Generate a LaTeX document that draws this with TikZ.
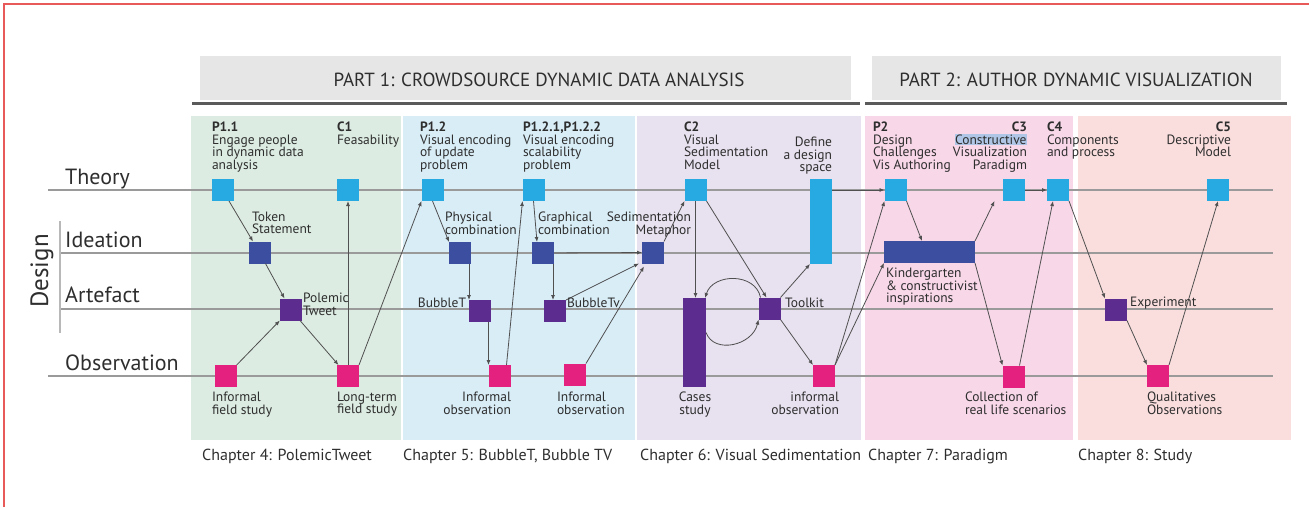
\documentclass[tikz,border=0pt]{standalone}
\usepackage{fontspec}
\setmainfont{PT Sans}
\usetikzlibrary{arrows.meta}
\definecolor{cgreen}{HTML}{DCECE2}
\definecolor{cblue}{HTML}{D9EDF7}
\definecolor{clav}{HTML}{E8E1EF}
\definecolor{cpink}{HTML}{F8D7E8}
\definecolor{csalmon}{HTML}{FADEDE}
\definecolor{chdr}{HTML}{E6E6E6}
\definecolor{chdrline}{HTML}{5A5A5A}
\definecolor{cth}{HTML}{27AAE1}
\definecolor{cid}{HTML}{3C4EA0}
\definecolor{car}{HTML}{5C2D8E}
\definecolor{cob}{HTML}{E5217F}
\definecolor{ctxt}{HTML}{2E2E2E}
\definecolor{cline}{HTML}{9A9A9A}
\definecolor{carr}{HTML}{505050}
\definecolor{cred}{HTML}{E85A5A}
\definecolor{hlblue}{HTML}{AFC6E6}
\newcommand{\hlbox}[1]{{\setlength{\fboxsep}{0.5pt}\colorbox{hlblue}{#1}}}
\begin{document}
\begin{tikzpicture}[x=1pt,y=-1pt,
  sqbox/.style={draw=none,minimum width=22pt,minimum height=22pt,inner sep=0pt,outer sep=0pt},
  thbox/.style={sqbox,fill=cth}, idbox/.style={sqbox,fill=cid}, arbox/.style={sqbox,fill=car}, obbox/.style={sqbox,fill=cob},
  lbl/.style={inner sep=0pt,outer sep=0pt,text=ctxt,font=\fontsize{13.5}{12.5}\selectfont},
  rowlbl/.style={inner sep=0pt,text=ctxt,font=\fontsize{22}{24}\selectfont,anchor=base west},
  chap/.style={inner sep=0pt,text=ctxt,font=\fontsize{16}{18}\selectfont,anchor=base west},
  parttxt/.style={inner sep=0pt,text=ctxt,font=\fontsize{19}{21}\selectfont},
  arr/.style={draw=carr,line width=0.8pt,-{Latex[length=5pt,width=4pt]}},
  rowline/.style={draw=cline,line width=1.2pt}]
\useasboundingbox (0,0) rectangle (1309,507);
% frame
\draw[cred,line width=1.5pt] (4,507) -- (4,4) -- (1309,4);
% headers
\fill[chdr] (200,56) rectangle (851,100);
\draw[chdrline,line width=3pt] (192,103) -- (860,103);
\node[parttxt] (part1) at (539,79.5) {PART 1: CROWDSOURCE DYNAMIC DATA ANALYSIS};
\fill[chdr] (872,56) rectangle (1281,100);
\draw[chdrline,line width=3pt] (865,103) -- (1287,103);
\node[parttxt] (part2) at (1076,79.5) {PART 2: AUTHOR DYNAMIC VISUALIZATION};
% panels
\fill[cgreen] (191,116) rectangle (401,440);
\fill[cblue] (403,116) rectangle (635,440);
\fill[clav] (637,116) rectangle (861,440);
\fill[cpink] (865,116) rectangle (1073,440);
\fill[csalmon] (1078,116) rectangle (1291,440);
% row lines
\draw[rowline] (48,190) -- (1273,190);
\draw[rowline] (60,253) -- (1273,253);
\draw[rowline] (60,309) -- (1273,309);
\draw[rowline] (48,376) -- (1273,376);
\draw[draw=cline!70,line width=1.5pt] (60,221) -- (60,333);
% row labels
\node[rowlbl] (rTheory) at (65,184) {Theory};
\node[rowlbl] (rIdea) at (65,247) {Ideation};
\node[rowlbl] (rArt) at (65,302) {Artefact};
\node[rowlbl] (rObs) at (65,370) {Observation};
\node[inner sep=0pt,text=ctxt,font=\fontsize{25}{27}\selectfont,rotate=90] (design) at (42,271) {Design};
% theory nodes
\node[thbox] (p11) at (222.5,190) {};
\node[thbox] (c1) at (348,190) {};
\node[thbox] (p12) at (432.5,190) {};
\node[thbox] (p121) at (533.5,190) {};
\node[thbox] (c2) at (695.5,190) {};
\node[thbox,minimum width=22pt,minimum height=85pt] (define) at (821,221.5) {};
\node[thbox] (p2) at (895.5,190) {};
\node[thbox] (c3) at (1013.5,190) {};
\node[thbox] (c4) at (1058,190) {};
\node[thbox] (c5) at (1218,190) {};
% ideation nodes
\node[idbox] (token) at (259.5,252.5) {};
\node[idbox] (phys) at (460,253) {};
\node[idbox] (graph) at (543,253) {};
\node[idbox] (sedim) at (653,252.5) {};
\node[idbox,minimum width=91pt] (kinder) at (929.5,252) {};
% artefact nodes
\node[arbox] (polemic) at (290.5,309.5) {};
\node[arbox] (bubt) at (479.5,311) {};
\node[arbox] (bubtv) at (555,311) {};
\node[arbox,minimum width=23pt,minimum height=89pt] (cases) at (694.5,342.5) {};
\node[arbox] (toolkit) at (769.5,308.5) {};
\node[arbox] (exp) at (1116,309.5) {};
% observation nodes
\node[obbox] (infstudy) at (226,376) {};
\node[obbox] (longterm) at (348,376) {};
\node[obbox] (infobs1) at (499.5,376) {};
\node[obbox] (infobs2) at (575,374.5) {};
\node[obbox] (infobs3) at (824,376) {};
\node[obbox] (coll) at (1013.5,376.5) {};
\node[obbox] (qual) at (1158,376) {};
% connectors chapter 4
\draw[arr] (p11) -- (token);
\draw[arr] (token) -- (polemic);
\draw[arr] (infstudy) -- (polemic);
\draw[arr] (polemic) -- (longterm);
\draw[arr] (longterm) -- (c1);
\draw[arr] (longterm.north east) -- (p12.south west);
% chapter 5
\draw[arr] (p12.south) -- (phys.north west);
\draw[arr] ([xshift=-2pt]phys.south east) -- ([xshift=-2pt]phys.south east |- bubt.north);
\draw[arr] ([xshift=-2pt]bubt.south east) -- ([xshift=-2pt]bubt.south east |- infobs1.north);
\draw[arr] ([xshift=-4pt]infobs1.north east) -- (p121.south west);
\draw[arr] (p121.south) -- ([xshift=-6pt]graph.north);
\draw[arr] ([xshift=-1pt]graph.south east) -- ([xshift=-1pt]graph.south east |- bubtv.north);
\draw[arr] (graph) -- (sedim);
\draw[arr] (bubtv.north east) -- ([xshift=-3pt]sedim.south west);
\draw[arr] (infobs2.north east) -- ([xshift=2pt,yshift=-3pt]sedim.south west);
% chapter 6
\draw[arr] (sedim.north east) -- (c2.south west);
\draw[arr] (c2.south) -- (c2.south |- cases.north);
\draw[arr] (c2.south east) -- ([xshift=-3pt]toolkit.north);
\draw[arr] ([xshift=2pt]toolkit.north west) .. controls +(-5,-25) and +(8,-25) .. ([xshift=-1pt]cases.north east);
\draw[arr] ([yshift=10pt]cases.east) .. controls +(8,22) and +(-6,26) .. (toolkit.south west);
\draw[arr] (toolkit.north east) -- (define.south west);
\draw[arr] (toolkit.south east) -- (infobs3.north west);
\draw[arr] (infobs3.north east) -- (p2.south west);
\draw[arr] (infobs3.north east) -- (kinder.south west);
\draw[arr] (define.east |- p2.west) -- (p2.west);
% chapter 7
\draw[arr] (p2.south east) -- ([xshift=38pt]kinder.north west);
\draw[arr] (kinder.north east) -- ([xshift=-8pt]c3.south west);
\draw[arr] (c3) -- (c4);
\draw[arr] (kinder.south east) -- (coll.north west);
\draw[arr] ([xshift=-5pt]coll.north east) -- ([xshift=-5pt]c4.south);
% chapter 8
\draw[arr] (c4.south east) -- (exp.north west);
\draw[arr] (exp.south east) -- (qual.north west);
\draw[arr] (qual.north east) -- (c5.south);
% labels
\node[lbl,anchor=north west,align=left] (tp11) at (212,122) {\textbf{P1.1}\\Engage people\\in dynamic data\\analysis};
\node[lbl,anchor=north west,align=left] (tc1) at (337,122) {\textbf{C1}\\Feasability};
\node[lbl,anchor=north west,align=left] (ttoken) at (252,212) {Token\\Statement};
\node[lbl,anchor=north west,align=left] (tpolemic) at (303,293) {Polemic\\Tweet};
\node[lbl,anchor=north west,align=left] (tinfstudy) at (212,392) {Informal\\field study};
\node[lbl,anchor=north west,align=left] (tlongterm) at (337,392) {Long-term\\field study};
\node[lbl,anchor=north west,align=left] (tp12) at (420,122) {\textbf{P1.2}\\Visual encoding\\of update\\problem};
\node[lbl,anchor=north west,align=left] (tp121) at (523,122) {\textbf{P1.2.1,P1.2.2}\\Visual encoding\\scalability\\problem};
\node[lbl,anchor=north west,align=left] (tphys) at (445,212) {Physical\\combination};
\node[lbl,anchor=north west,align=left] (tgraph) at (538,212) {Graphical\\combination};
\node[lbl,anchor=north east,align=right] (tsedim) at (691,212) {Sedimentation\\Metaphor};
\node[lbl,anchor=east] (tbubt) at (466,303) {BubbleT};
\node[lbl,anchor=west] (tbubtv) at (567,303) {BubbleTv};
\node[lbl,anchor=north east,align=right] (tinfobs1) at (511,392) {Informal\\observation};
\node[lbl,anchor=north west,align=left] (tinfobs2) at (557,392) {Informal\\observation};
\node[lbl,anchor=north west,align=left] (tc2) at (684,122) {\textbf{C2}\\Visual\\Sedimentation\\Model};
\node[lbl,anchor=north east,align=right] (tdefine) at (832,137) {Define\\a design\\space};
\node[lbl,anchor=west] (ttoolkit) at (785,303) {Toolkit};
\node[lbl,anchor=north,align=center] (tcases) at (695,392) {Cases\\study};
\node[lbl,anchor=north east,align=right] (tinfobs3) at (839,392) {informal\\observation};
\node[lbl,anchor=north west,align=left] (tp2) at (873,122) {\textbf{P2}\\Design\\Challenges\\Vis Authoring};
\node[lbl,anchor=north east,align=right] (tc3) at (1027,122) {\textbf{C3}\\\hlbox{Constructive}\\Visualization\\Paradigm};
\node[lbl,anchor=north west,align=left] (tc4) at (1047,122) {\textbf{C4}\\Components\\and process};
\node[lbl,anchor=north west,align=left] (tkinder) at (886,268) {Kindergarten\\\& constructivist\\inspirations};
\node[lbl,anchor=north west,align=left] (tcoll) at (965,392) {Collection of\\real life scenarios};
\node[lbl,anchor=north east,align=right] (tc5) at (1231,122) {\textbf{C5}\\Descriptive\\Model};
\node[lbl,anchor=west] (texp) at (1130,303) {Experiment};
\node[lbl,anchor=north west,align=left] (tqual) at (1147,392) {Qualitatives\\Observations};
% chapter labels
\node[chap] (ch4) at (202,460) {Chapter 4: PolemicTweet};
\node[chap] (ch5) at (403,460) {Chapter 5: BubbleT, Bubble TV};
\node[chap] (ch6) at (640,460) {Chapter 6: Visual Sedimentation};
\node[chap] (ch7) at (868,460) {Chapter 7: Paradigm};
\node[chap] (ch8) at (1078,460) {Chapter 8: Study};
\end{tikzpicture}
\end{document}
